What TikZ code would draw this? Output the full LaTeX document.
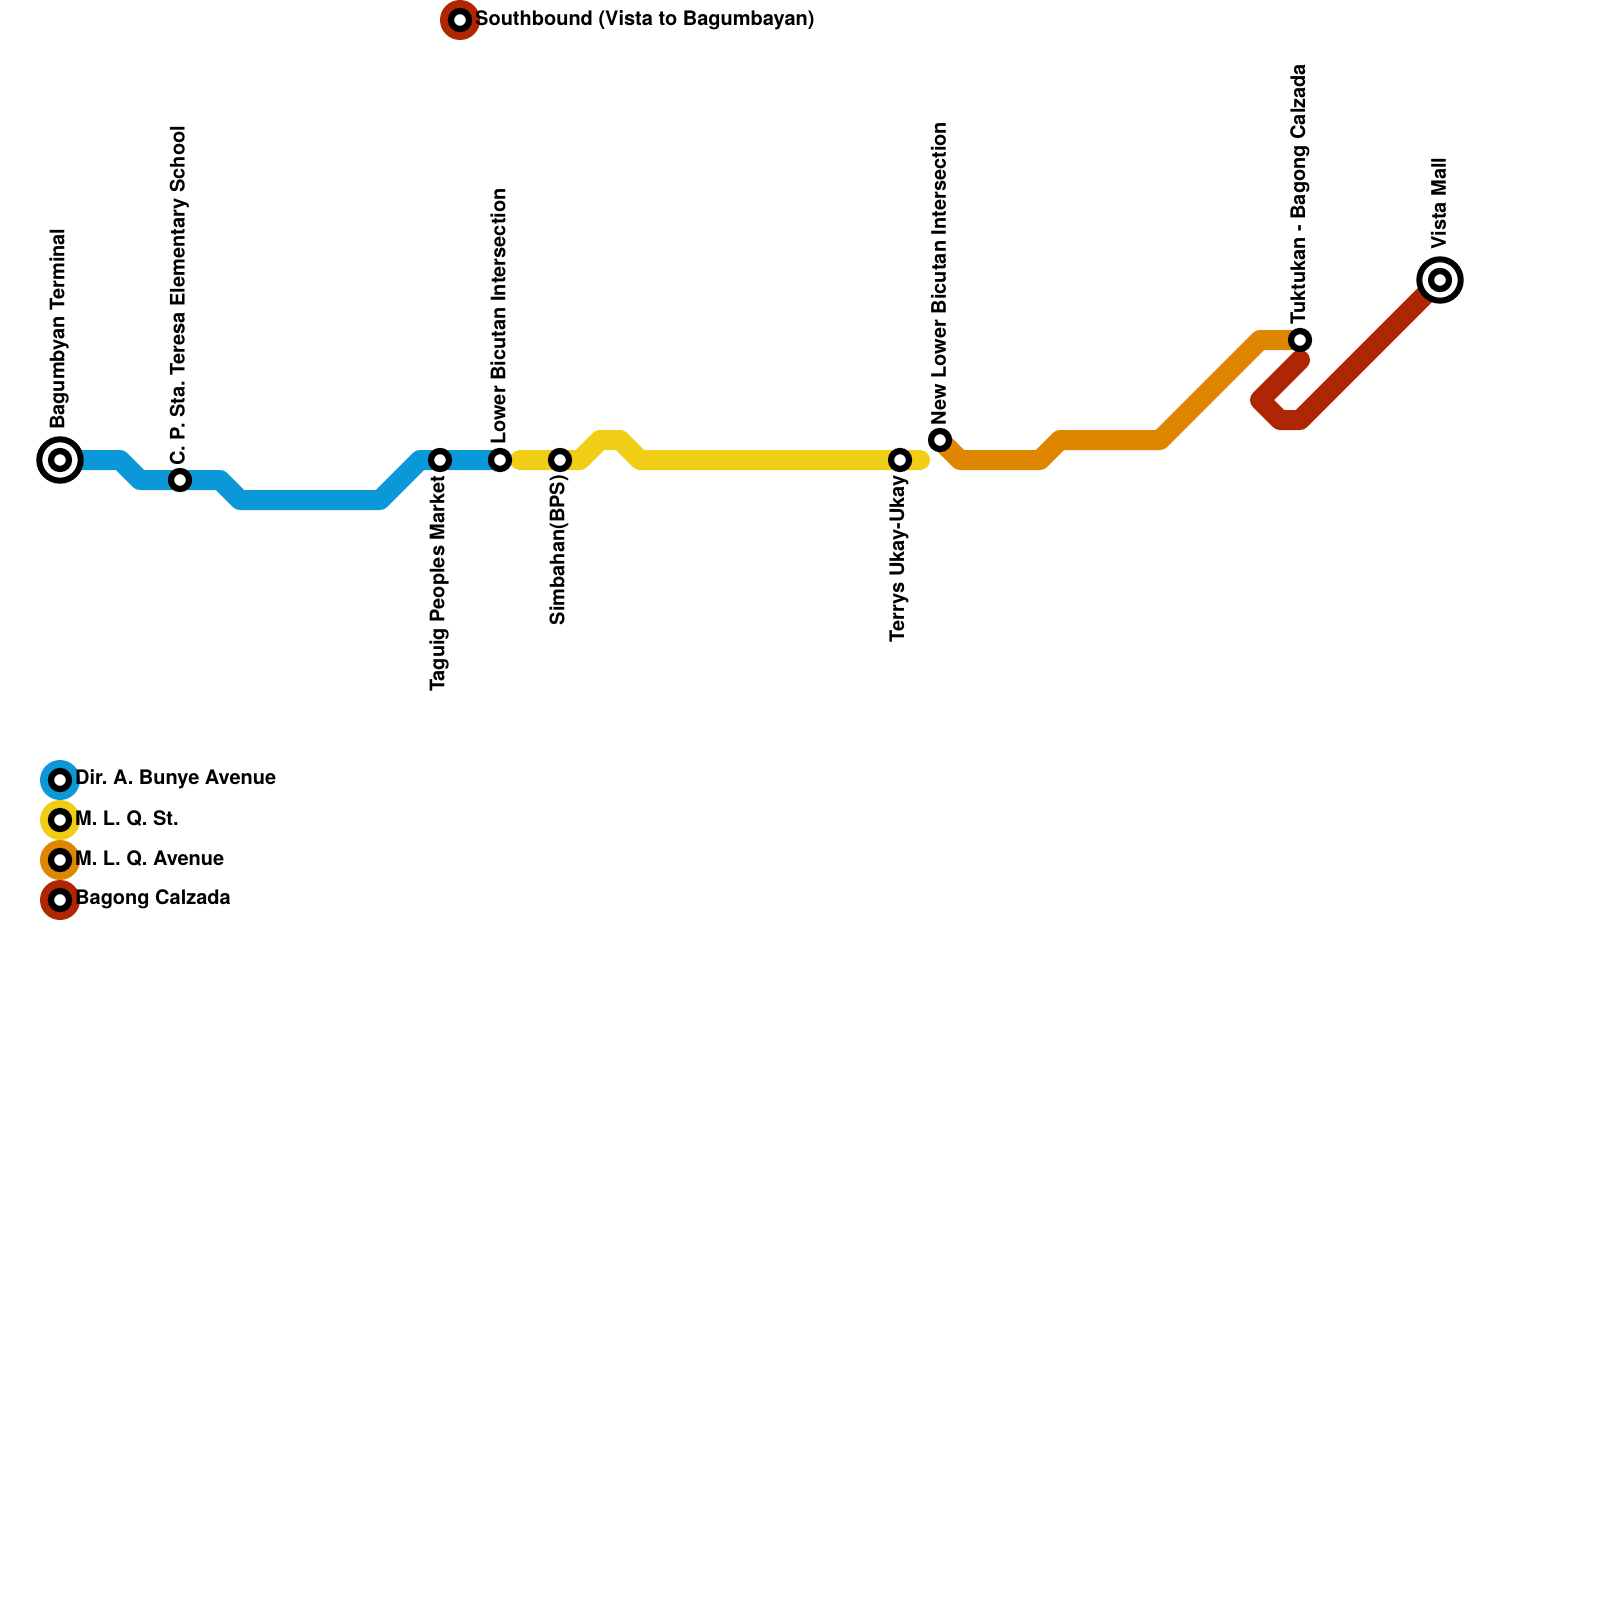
\documentclass[tikz,border=0pt]{standalone}
\usepackage{fontspec}
\setmainfont{TeX Gyre Heros}
\frenchspacing
\definecolor{lblue}{HTML}{0B98D8}
\definecolor{lyellow}{HTML}{F0CE15}
\definecolor{lorange}{HTML}{DF8600}
\definecolor{lred}{HTML}{AE2603}
\tikzset{
  x=1pt,y=-1pt,
  metro/.style={line width=20pt,line join=round,line cap=round},
  stn/.style={circle,draw=black,fill=white,line width=6.2pt,inner sep=0pt,outer sep=0pt,minimum size=18pt},
  termouter/.style={circle,draw=black,fill=white,line width=6pt,inner sep=0pt,outer sep=0pt,minimum size=41.4pt},
  swatch/.style={circle,inner sep=0pt,outer sep=0pt,minimum size=40pt},
  lab/.style={font=\bfseries\fontsize{20}{20}\selectfont\frenchspacing,text=black,inner sep=0pt},
  upl/.style={lab,rotate=90,anchor=west},
  downl/.style={lab,rotate=90,anchor=east},
  keyl/.style={lab,anchor=west}
}
\begin{document}
\begin{tikzpicture}
\useasboundingbox (0,0) rectangle (1600,1600);
% stations
\coordinate (a) at (60,460);
\coordinate (b) at (180,480);
\coordinate (c) at (440,460);
\coordinate (d) at (500,460);
\coordinate (e) at (560,460);
\coordinate (f) at (900,460);
\coordinate (g) at (940,440);
\coordinate (h) at (1300,340);
\coordinate (i) at (1440,280);
% line ends
\coordinate (yS) at (520,460);
\coordinate (yE) at (920,460);
\coordinate (rS) at (1300,360);
% lines
\draw[metro,lblue] (a) -- (120,460) -- (140,480) -- (b) -- (220,480) -- (240,500) -- (380,500) -- (420,460) -- (c) -- (d);
\draw[metro,lyellow] (yS) -- (e) -- (580,460) -- (600,440) -- (620,440) -- (640,460) -- (f) -- (yE);
\draw[metro,lorange] (g) -- (960,460) -- (1040,460) -- (1060,440) -- (1160,440) -- (1260,340) -- (h);
\draw[metro,lred] (rS) -- (1260,400) -- (1280,420) -- (1300,420) -- (i);
% legend swatches
\node[swatch,fill=lred] (s0) at (460,20) {};
\node[swatch,fill=lblue] (k1) at (60,780) {};
\node[swatch,fill=lyellow] (k2) at (60,820) {};
\node[swatch,fill=lorange] (k3) at (60,860) {};
\node[swatch,fill=lred] (k4) at (60,900) {};
\foreach \n in {s0,k1,k2,k3,k4} \node[stn] (\n-m) at (\n) {};
% stations
\node[termouter] (a-o) at (a) {};
\node[stn] (a-m) at (a) {};
\node[termouter] (i-o) at (i) {};
\node[stn] (i-m) at (i) {};
\foreach \n in {b,c,d,e,f,g,h} \node[stn] (\n-m) at (\n) {};
% labels
\node[upl] (la) at (59,430) {Bagumbyan Terminal};
\node[upl] (lb) at (179.5,466) {C. P. Sta. Teresa Elementary School};
\node[downl] (lc) at (439,476) {Taguig Peoples Market};
\node[upl] (ld) at (498,445) {Lower Bicutan Intersection};
\node[downl] (le) at (559,475) {Simbahan(BPS)};
\node[downl] (lf) at (899,475) {Terrys Ukay-Ukay};
\node[upl] (lg) at (938.5,425.5) {New Lower Bicutan Intersection};
\node[upl] (lh) at (1300,325) {Tuktukan - Bagong Calzada};
\node[upl] (li) at (1438.5,250) {Vista Mall};
\node[keyl] (t0) at (475,20) {Southbound (Vista to Bagumbayan)};
\node[keyl] (t1) at (75,779.5) {Dir. A. Bunye Avenue};
\node[keyl] (t2) at (75,819) {M. L. Q. St.};
\node[keyl] (t3) at (75,859) {M. L. Q. Avenue};
\node[keyl] (t4) at (75,899.5) {Bagong Calzada};
\end{tikzpicture}
\end{document}
